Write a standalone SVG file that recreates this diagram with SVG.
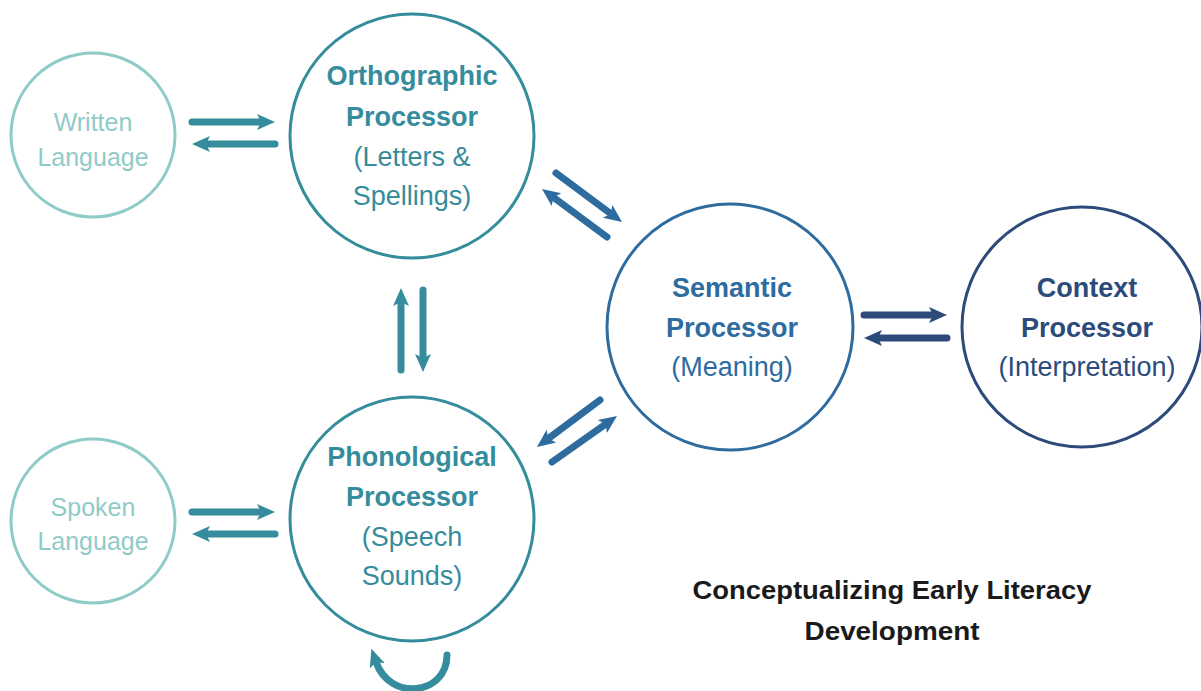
<svg xmlns="http://www.w3.org/2000/svg" width="1201" height="691" viewBox="0 0 1201 691">
<defs>
<style>
.t{font-family:"Liberation Sans",Arial,sans-serif;text-anchor:middle;}
.b{font-weight:bold;font-size:27px;}
.n{font-size:27px;}
.lt{font-size:25px;fill:#8fcbc7;}
.teal{fill:#358c9c;}
.blue{fill:#2e6c9f;}
.navy{fill:#2c4b7b;}
.c{fill:#fff;stroke-width:3;}
.a{fill:none;stroke-width:7;stroke-linecap:round;}
.at{stroke:#358c9c;marker-end:url(#mt);}
.ab{stroke:#2e6c9f;marker-end:url(#mb);}
.an{stroke:#2c4b7b;marker-end:url(#mn);}
.ttl{font-size:26px;font-weight:bold;fill:#1a1a1a;}
</style>
<marker id="mt" markerUnits="userSpaceOnUse" viewBox="0 0 18 18" markerWidth="18" markerHeight="18" refX="4" refY="9" orient="auto"><path d="M0,1 L18,9 L0,17 L4,9 z" fill="#358c9c"/></marker>
<marker id="mb" markerUnits="userSpaceOnUse" viewBox="0 0 18 18" markerWidth="18" markerHeight="18" refX="4" refY="9" orient="auto"><path d="M0,1 L18,9 L0,17 L4,9 z" fill="#2e6c9f"/></marker>
<marker id="mn" markerUnits="userSpaceOnUse" viewBox="0 0 18 18" markerWidth="18" markerHeight="18" refX="4" refY="9" orient="auto"><path d="M0,1 L18,9 L0,17 L4,9 z" fill="#2c4b7b"/></marker>
</defs>
<rect width="1201" height="691" fill="#fff"/>
<g id="written">
<circle class="c" cx="93" cy="135" r="82" stroke="#8fcbc7"/>
<text class="t lt" x="93" y="131">Written</text>
<text class="t lt" x="93" y="166">Language</text>
</g>
<g id="spoken">
<circle class="c" cx="93" cy="521" r="82" stroke="#8fcbc7"/>
<text class="t lt" x="93" y="516">Spoken</text>
<text class="t lt" x="93" y="550">Language</text>
</g>
<g id="orthographic">
<circle class="c" cx="412" cy="136" r="122" stroke="#358c9c"/>
<text class="t b teal" x="412" y="85">Orthographic</text>
<text class="t b teal" x="412" y="126">Processor</text>
<text class="t n teal" x="412" y="166">(Letters &amp;</text>
<text class="t n teal" x="412" y="205">Spellings)</text>
</g>
<g id="phonological">
<circle class="c" cx="412" cy="519" r="122" stroke="#358c9c"/>
<text class="t b teal" x="412" y="466">Phonological</text>
<text class="t b teal" x="412" y="506">Processor</text>
<text class="t n teal" x="412" y="546">(Speech</text>
<text class="t n teal" x="412" y="585">Sounds)</text>
</g>
<g id="semantic">
<circle class="c" cx="730" cy="327" r="123" stroke="#2e6c9f"/>
<text class="t b blue" x="732" y="297">Semantic</text>
<text class="t b blue" x="732" y="337">Processor</text>
<text class="t n blue" x="732" y="376">(Meaning)</text>
</g>
<g id="context">
<circle class="c" cx="1082" cy="327" r="120" stroke="#2c4b7b"/>
<text class="t b navy" x="1087" y="297">Context</text>
<text class="t b navy" x="1087" y="337">Processor</text>
<text class="t n navy" x="1087" y="376">(Interpretation)</text>
</g>
<g id="connectors">
<line class="a at" x1="192" y1="122" x2="261" y2="122"/>
<line class="a at" x1="275" y1="144" x2="206" y2="144"/>
<line class="a at" x1="192" y1="512" x2="261" y2="512"/>
<line class="a at" x1="275" y1="534" x2="206" y2="534"/>
<line class="a at" x1="401" y1="370" x2="401" y2="302"/>
<line class="a at" x1="423" y1="290" x2="423" y2="358"/>
<line class="a ab" x1="556" y1="173" x2="610.8" y2="213.7"/>
<line class="a ab" x1="607" y1="237" x2="553.3" y2="197.3"/>
<line class="a ab" x1="600" y1="400" x2="548.2" y2="438.6"/>
<line class="a ab" x1="552" y1="462" x2="605.6" y2="424.1"/>
<line class="a an" x1="864" y1="315" x2="933" y2="315"/>
<line class="a an" x1="947" y1="338" x2="878" y2="338"/>
<path class="a at" d="M447,655 C447,695 390,702 376,662"/>
</g>
<g id="title">
<text class="t ttl" x="892" y="599" textLength="399" lengthAdjust="spacingAndGlyphs">Conceptualizing Early Literacy</text>
<text class="t ttl" x="892" y="640" textLength="175" lengthAdjust="spacingAndGlyphs">Development</text>
</g>
</svg>
